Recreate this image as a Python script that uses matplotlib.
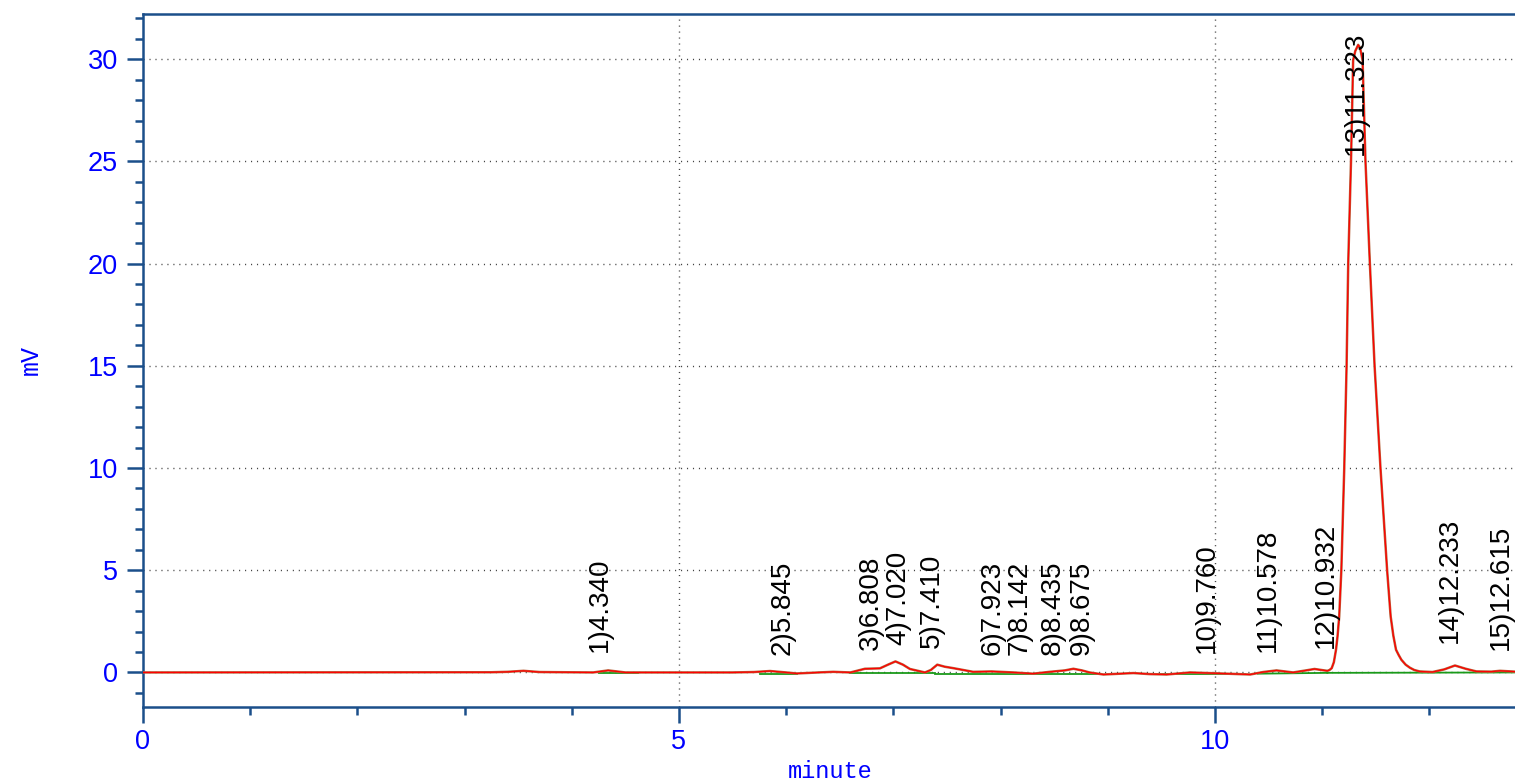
import matplotlib
matplotlib.use("Agg")
import matplotlib.pyplot as plt
from matplotlib.ticker import MultipleLocator

# detector trace (minute, mV)
TIME = [0.0, 3.25, 3.40, 3.55, 3.70, 4.20, 4.34, 4.50, 4.94, 5.50, 5.70, 5.85, 6.00,
        6.10, 6.30, 6.44, 6.60, 6.735, 6.875, 6.95, 7.02, 7.09, 7.155, 7.295, 7.35,
        7.41, 7.48, 7.56, 7.745, 7.917, 8.12, 8.305, 8.46, 8.60, 8.68, 8.76, 8.83,
        8.96, 9.24, 9.39, 9.55, 9.77, 10.00, 10.33, 10.45, 10.575, 10.73, 10.85, 10.93,
        11.02, 11.05, 11.07, 11.09, 11.11, 11.13, 11.145, 11.16, 11.18, 11.207, 11.229,
        11.244, 11.27, 11.29, 11.31, 11.337, 11.355, 11.378, 11.405, 11.446, 11.49,
        11.545, 11.607, 11.64, 11.665, 11.69, 11.715, 11.74, 11.78, 11.82, 11.86, 11.91,
        12.03, 12.14, 12.24, 12.34, 12.44, 12.58, 12.66, 12.80]
SIGNAL = [0.0, 0.01, 0.03, 0.08, 0.02, 0.0, 0.10, 0.0, 0.0, 0.0, 0.02, 0.07, 0.0,
          -0.05, 0.0, 0.03, 0.0, 0.18, 0.20, 0.38, 0.54, 0.38, 0.17, 0.0, 0.12,
          0.38, 0.28, 0.21, 0.03, 0.05, 0.0, -0.06, 0.03, 0.10, 0.18, 0.10, 0.0,
          -0.10, -0.03, -0.08, -0.10, 0.0, -0.04, -0.10, 0.02, 0.10, 0.0, 0.10, 0.17,
          0.10, 0.08, 0.12, 0.21, 0.50, 1.11, 1.80, 2.74, 5.02, 10.0, 15.05,
          20.0, 25.0, 29.95, 30.4, 30.7, 30.55, 29.95, 25.0, 20.0, 15.0,
          10.0, 5.0, 2.74, 1.80, 1.11, 0.85, 0.62, 0.38, 0.23, 0.12, 0.05,
          0.02, 0.15, 0.34, 0.18, 0.05, 0.04, 0.08, 0.04]

# integrated peaks
PEAK_NO = list(range(1, 16))
PEAK_RT = [4.340, 5.845, 6.808, 7.020, 7.410, 7.923, 8.142, 8.435, 8.675,
           9.760, 10.578, 10.932, 11.323, 12.233, 12.615]

# integration baseline segments (start, end, mV start, mV end)
BASE_T0 = [4.25, 5.76, 6.60, 7.39, 9.39, 10.40, 11.05]
BASE_T1 = [4.62, 6.10, 7.39, 8.90, 10.28, 11.05, 12.80]
BASE_Y0 = [-0.05, -0.07, -0.02, -0.06, -0.10, -0.06, -0.02]
BASE_Y1 = [-0.05, -0.07, -0.02, -0.06, -0.10, -0.02, 0.0]

# label placement (minute of text centre, mV of text bottom)
LABEL_X = [4.26, 5.97, 6.79, 7.05, 7.36, 7.93, 8.18, 8.49, 8.76,
           9.93, 10.49, 11.04, 11.32, 12.19, 12.67]
LABEL_Y = [1.0, 0.87, 1.1, 1.35, 1.2, 0.87, 0.87, 0.87, 0.87,
           0.96, 1.0, 1.2, 25.3, 1.45, 1.1]

SPINE = "#1b4f8a"
BLUE = "#0000ff"

fig = plt.figure(figsize=(15.15, 7.81), dpi=100)
ax = fig.add_axes([143 / 1515, 1 - 707 / 781, 1372 / 1515, 693 / 781])

ax.set_xlim(0, 12.80)
ax.set_ylim(-1.69, 32.21)

dots = (0, (0.8, 3.5))
for y in range(0, 31, 5):
    ax.axhline(y, color="#444444", lw=1.0, ls=dots, zorder=1)
for x in (5, 10):
    ax.axvline(x, color="#444444", lw=1.0, ls=dots, zorder=1)

for t0, t1, y0, y1 in zip(BASE_T0, BASE_T1, BASE_Y0, BASE_Y1):
    ax.plot([t0, t1], [y0, y1], color="#1a9a1a", lw=1.3, zorder=2)

ax.plot(TIME, SIGNAL, color="#b8653f", lw=1.8, zorder=3)
ax.plot(TIME, SIGNAL, color="#ff0000", lw=0.9, zorder=4)

for n, rt, lx, ly in zip(PEAK_NO, PEAK_RT, LABEL_X, LABEL_Y):
    ax.text(lx, ly, f"{n}){rt:.3f}", rotation=90, ha="center", va="bottom",
            fontsize=20, family="Liberation Sans", color="black", zorder=5,
            clip_on=False)

ax.xaxis.set_major_locator(MultipleLocator(5))
ax.xaxis.set_minor_locator(MultipleLocator(1))
ax.yaxis.set_major_locator(MultipleLocator(5))
ax.yaxis.set_minor_locator(MultipleLocator(1))
ax.tick_params(which="major", length=11.5, width=1.8, color=SPINE,
               labelcolor=BLUE, labelsize=19.5)
ax.tick_params(which="minor", length=6, width=1.8, color=SPINE)
ax.tick_params(axis="x", which="major", pad=4)
ax.tick_params(axis="y", which="major", pad=6.5)
for lab in ax.get_xticklabels() + ax.get_yticklabels():
    lab.set_family("Liberation Sans")

for sp in ("left", "bottom", "top"):
    ax.spines[sp].set_color(SPINE)
    ax.spines[sp].set_linewidth(1.8)
ax.spines["right"].set_visible(False)

fig.text(830 / 1515, 1 - 778 / 781, "minute", ha="center", va="baseline",
         color=BLUE, fontsize=17, family="Liberation Mono")
fig.text(31 / 1515, 1 - 360 / 781, "mV", ha="center", va="center", rotation=90,
         color=BLUE, fontsize=18, family="Liberation Mono")

fig.savefig("out.png", dpi=100)
